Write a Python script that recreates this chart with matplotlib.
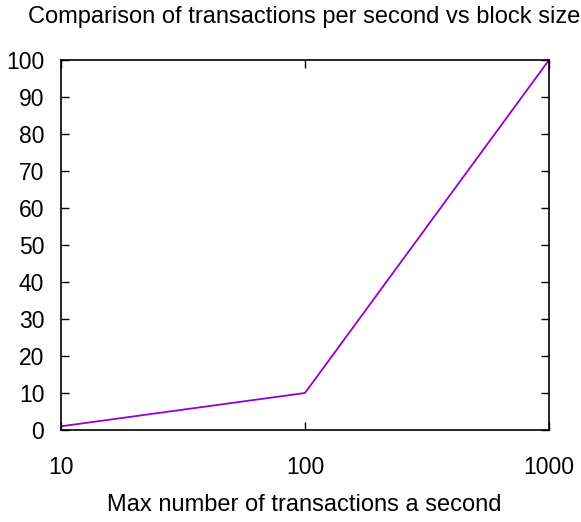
import matplotlib
matplotlib.use("Agg")
import matplotlib.pyplot as plt
from matplotlib.ticker import FixedLocator, NullLocator

# data
max_tx = [10, 100, 1000]
tps = [1, 10, 100]
x_ticks = [10, 100, 1000]
y_ticks = list(range(0, 101, 10))

plt.rcParams['font.family'] = ['Liberation Sans', 'DejaVu Sans']

fig = plt.figure(figsize=(5.81, 5.22), dpi=100)
ax = fig.add_axes([61 / 581, 1 - 430 / 522, 488 / 581, 370 / 522])

ax.plot(max_tx, tps, color='#9400D3', linewidth=1.3)

ax.set_xscale('log')
ax.set_xlim(10, 1000)
ax.set_ylim(0, 100)
ax.xaxis.set_major_locator(FixedLocator(x_ticks))
ax.xaxis.set_minor_locator(NullLocator())
ax.set_xticklabels([str(t) for t in x_ticks])
ax.set_yticks(y_ticks)

ax.tick_params(direction='in', length=6, width=1, labelsize=16.5, top=True, right=True)
ax.tick_params(axis='y', pad=12)
ax.tick_params(axis='x', pad=19)
for s in ax.spines.values():
    s.set_linewidth(1.2)

fig.text(304 / 581, 1 - 17 / 522, 'Comparison of transactions per second vs block size',
         fontsize=17, ha='center', va='center')
fig.text(304 / 581, 1 - 505 / 522, 'Max number of transactions a second',
         fontsize=17, ha='center', va='center')

fig.savefig('out.png', dpi=100)
